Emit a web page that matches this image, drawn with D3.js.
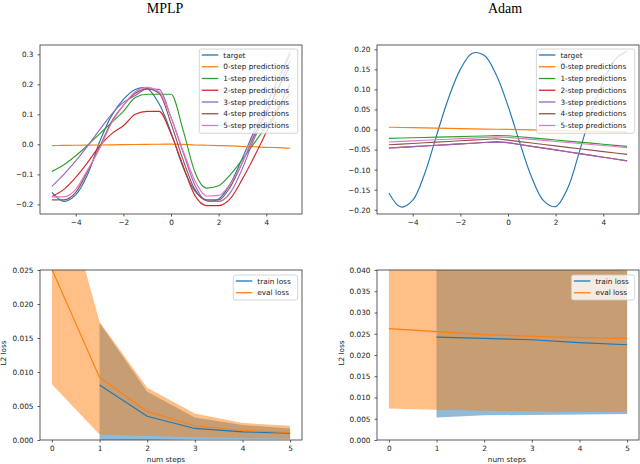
<!DOCTYPE html>
<html>
<head>
<meta charset="utf-8">
<script src="https://cdn.jsdelivr.net/npm/d3@7"></script>
<style>
body {margin: 0; background: #fff;}
svg {display: block;}
.tick text {font-family: "DejaVu Sans"; font-size: 7.3px; fill: #222;}
.lbl {font-family: "DejaVu Sans"; font-size: 7.3px; fill: #222;}
</style>
</head>
<body>
<script>
// x positions used by every curve in the two top panels
var xGrid = [-5, -4.5, -4, -3.5, -3, -2.5, -2, -1.5, -1, -0.5, 0, 0.5, 1, 1.5, 2, 2.5, 3, 3.5, 4, 4.5, 5];

// MPLP panel
var mplpTarget = [-0.16, -0.19, -0.168, -0.1, 0.008, 0.095, 0.15, 0.183, 0.186, 0.135, 0.04, -0.075, -0.155, -0.188, -0.182, -0.13, -0.045, 0.045, 0.13, 0.215, 0.3];
var mplpStep0 = [-0.004, -0.0035, -0.003, -0.0025, -0.002, -0.0015, -0.001, -0.0005, 0.0, 0.0005, 0.001, 0.0, -0.002, -0.003, -0.004, -0.005, -0.007, -0.008, -0.01, -0.011, -0.013];
var mplpStep1 = [-0.09, -0.068, -0.038, -0.003, 0.035, 0.072, 0.11, 0.156, 0.167, 0.167, 0.167, 0.05, -0.092, -0.146, -0.138, -0.1, -0.05, 0.005, 0.06, 0.115, 0.17];
var mplpStep2 = [-0.174, -0.15, -0.11, -0.06, -0.006, 0.035, 0.062, 0.1, 0.11, 0.11, 0.035, -0.07, -0.17, -0.204, -0.204, -0.18, -0.115, -0.04, 0.04, 0.12, 0.2];
var mplpStep3 = [-0.14, -0.1, -0.055, -0.005, 0.048, 0.1, 0.14, 0.163, 0.185, 0.183, 0.09, -0.025, -0.135, -0.188, -0.19, -0.16, -0.08, 0.02, 0.1, 0.19, 0.28];
var mplpStep4 = [-0.185, -0.185, -0.16, -0.09, -0.01, 0.075, 0.13, 0.17, 0.185, 0.17, 0.07, -0.05, -0.15, -0.185, -0.185, -0.14, -0.06, 0.03, 0.11, 0.185, 0.26];
var mplpStep5 = [-0.175, -0.175, -0.15, -0.085, -0.015, 0.07, 0.13, 0.175, 0.19, 0.175, 0.09, -0.02, -0.12, -0.172, -0.17, -0.13, -0.06, 0.04, 0.13, 0.22, 0.31];

// Adam panel
var adamTarget = [-0.158, -0.193, -0.176, -0.11, -0.015, 0.078, 0.15, 0.19, 0.185, 0.137, 0.059, -0.034, -0.12, -0.178, -0.192, -0.147, -0.055, 0.043, 0.12, 0.175, 0.195];
var adamStep0 = [0.0058, 0.0052, 0.0046, 0.004, 0.0035, 0.003, 0.0024, 0.0018, 0.0012, 0.0007, 0.0003, -0.0003, -0.001, -0.0017, -0.0024, -0.003, -0.0037, -0.0044, -0.005, -0.0057, -0.0065];
var adamStep1 = [-0.022, -0.0212, -0.0205, -0.0198, -0.019, -0.0183, -0.0176, -0.0168, -0.016, -0.0153, -0.0155, -0.018, -0.0207, -0.0233, -0.026, -0.0287, -0.0313, -0.034, -0.0367, -0.0393, -0.042];
var adamStep2 = [-0.046, -0.0443, -0.0426, -0.0409, -0.0392, -0.0375, -0.0358, -0.0341, -0.0324, -0.0307, -0.0327, -0.0372, -0.0418, -0.0463, -0.0508, -0.0554, -0.0599, -0.0644, -0.069, -0.0735, -0.078];
var adamStep3 = [-0.046, -0.0443, -0.0426, -0.0409, -0.0392, -0.0375, -0.0358, -0.0341, -0.0324, -0.0307, -0.0327, -0.0372, -0.0418, -0.0463, -0.0508, -0.0554, -0.0599, -0.0644, -0.069, -0.0735, -0.078];
var adamStep4 = [-0.038, -0.0363, -0.0347, -0.033, -0.0313, -0.0297, -0.028, -0.0263, -0.0247, -0.023, -0.0265, -0.0301, -0.0336, -0.0372, -0.0407, -0.0443, -0.0478, -0.0514, -0.0549, -0.0585, -0.062];
var adamStep5 = [-0.031, -0.0296, -0.0282, -0.0268, -0.0255, -0.0241, -0.0227, -0.0213, -0.0199, -0.0186, -0.0195, -0.022, -0.0246, -0.0271, -0.0297, -0.0322, -0.0348, -0.0373, -0.0399, -0.0424, -0.045];

var curveNames = ["target", "0-step predictions", "1-step predictions", "2-step predictions", "3-step predictions", "4-step predictions", "5-step predictions"];
var curveColors = ["#1f77b4", "#ff7f0e", "#2ca02c", "#d62728", "#9467bd", "#8c564b", "#e377c2"];

// loss panels
var evalSteps = [0, 1, 2, 3, 4, 5];
var trainSteps = [1, 2, 3, 4, 5];
var mplpEval = [0.0251, 0.0092, 0.0042, 0.0021, 0.0014, 0.0011];
var mplpEvalLo = [0.0082, 0.0008, 0.0006, 0.0004, 0.0003, 0.0002];
var mplpEvalHi = [0.0427, 0.0174, 0.0077, 0.0039, 0.0025, 0.0021];
var mplpTrain = [0.0081, 0.0035, 0.0017, 0.0012, 0.0010];
var mplpTrainLo = [0.0000, 0.0000, 0.0001, 0.0001, 0.0001];
var mplpTrainHi = [0.0172, 0.0071, 0.0033, 0.0022, 0.0017];
var adamEval = [0.0262, 0.0255, 0.0248, 0.0244, 0.0241, 0.0239];
var adamEvalLo = [0.0074, 0.0071, 0.0069, 0.0067, 0.0066, 0.0066];
var adamEvalHi = [0.0450, 0.0445, 0.0440, 0.0432, 0.0425, 0.0418];
var adamTrain = [0.0242, 0.0239, 0.0236, 0.0229, 0.0224];
var adamTrainLo = [0.0053, 0.0058, 0.0059, 0.0060, 0.0061];
var adamTrainHi = [0.0430, 0.0420, 0.0412, 0.0405, 0.0398];
var lossNames = ["train loss", "eval loss"];

// tick labels
var curveXTicks = [-4, -2, 0, 2, 4];
var mplpYTicks = [-0.2, -0.1, 0.0, 0.1, 0.2, 0.3];
var adamYTicks = [-0.20, -0.15, -0.10, -0.05, 0.00, 0.05, 0.10, 0.15, 0.20];
var stepTicks = [0, 1, 2, 3, 4, 5];
var mplpLossTicks = [0, 0.005, 0.010, 0.015, 0.020, 0.025];
var adamLossTicks = [0, 0.005, 0.010, 0.015, 0.020, 0.025, 0.030, 0.035, 0.040];

var screen = {width: 640, height: 464};

var svg = d3.select("body").append("svg")
    .attr("width", screen.width)
    .attr("height", screen.height);

// builds one subplot: scales, ticks, clipped plot group, frame group on top
var setupPanel = function(id, box, xDomain, yDomain, xTicks, yTicks, xFmt, yFmt)
{
    var xScale = d3.scaleLinear().domain(xDomain).range([box.x0, box.x1]);
    var yScale = d3.scaleLinear().domain(yDomain).range([box.y1, box.y0]);

    svg.append("clipPath").attr("id", id)
        .append("rect")
        .attr("x", box.x0).attr("y", box.y0)
        .attr("width", box.x1 - box.x0).attr("height", box.y1 - box.y0);

    var xAxisG = svg.append("g")
        .attr("transform", "translate(0," + box.y1 + ")")
        .call(d3.axisBottom(xScale).tickValues(xTicks).tickFormat(xFmt).tickSize(2.5).tickPadding(3));
    var yAxisG = svg.append("g")
        .attr("transform", "translate(" + box.x0 + ",0)")
        .call(d3.axisLeft(yScale).tickValues(yTicks).tickFormat(yFmt).tickSize(2.5).tickPadding(4));
    xAxisG.select(".domain").remove();
    yAxisG.select(".domain").remove();
    svg.selectAll(".tick line").attr("stroke", "#333").attr("stroke-width", 0.8);

    var plot = svg.append("g").attr("clip-path", "url(#" + id + ")");
    var top = svg.append("g");
    top.append("rect")
        .attr("x", box.x0).attr("y", box.y0)
        .attr("width", box.x1 - box.x0).attr("height", box.y1 - box.y0)
        .attr("fill", "none")
        .attr("stroke", "#333")
        .attr("stroke-width", 0.8);

    return {x: xScale, y: yScale, plot: plot, top: top, box: box};
}

var drawLegend = function(panel, width, height, rowTop, names, colors)
{
    var right = panel.box.x1 - 4.3;
    var left = right - width;
    var top = panel.box.y0 + rowTop;
    var leg = panel.top.append("g");
    leg.append("rect")
        .attr("x", left).attr("y", top)
        .attr("width", width).attr("height", height)
        .attr("rx", 2)
        .attr("fill", "#fff").attr("fill-opacity", 0.8)
        .attr("stroke", "#ccc").attr("stroke-width", 0.8);
    names.forEach(function(name, i)
    {
        var yy = top + 6 + i * 11.75;
        leg.append("line")
            .attr("x1", left + 2.5).attr("x2", left + 19)
            .attr("y1", yy).attr("y2", yy)
            .attr("stroke", colors[i]).attr("stroke-width", 1.3);
        leg.append("text")
            .attr("class", "lbl")
            .attr("x", left + 24).attr("y", yy)
            .attr("dy", "0.36em")
            .text(name);
    })
}

// one path per series, colour k + offset
var drawCurves = function(panel, series, curve, offset)
{
    var line = d3.line()
        .x(function(d, i){return panel.x(xGrid[i]);})
        .y(function(d){return panel.y(d);})
        .curve(curve);
    series.forEach(function(values, k)
    {
        panel.plot.append("path")
            .attr("d", line(values))
            .attr("fill", "none")
            .attr("stroke", curveColors[k + offset])
            .attr("stroke-width", 1.15);
    })
}

var drawLoss = function(panel, train, trainLo, trainHi, evalVals, evalLo, evalHi)
{
    var area = function(xs)
    {
        return d3.area()
            .x(function(d, i){return panel.x(xs[i]);})
            .y0(function(d){return panel.y(d[0]);})
            .y1(function(d){return panel.y(d[1]);});
    }
    var line = function(xs)
    {
        return d3.line()
            .x(function(d, i){return panel.x(xs[i]);})
            .y(function(d){return panel.y(d);});
    }
    // bands first (matplotlib collections sit under lines)
    panel.plot.append("path")
        .attr("d", area(trainSteps)(d3.zip(trainLo, trainHi)))
        .attr("fill", "#1f77b4").attr("fill-opacity", 0.5);
    panel.plot.append("path")
        .attr("d", area(evalSteps)(d3.zip(evalLo, evalHi)))
        .attr("fill", "#ff7f0e").attr("fill-opacity", 0.5);
    panel.plot.append("path")
        .attr("d", line(trainSteps)(train))
        .attr("fill", "none").attr("stroke", "#1f77b4").attr("stroke-width", 1.15);
    panel.plot.append("path")
        .attr("d", line(evalSteps)(evalVals))
        .attr("fill", "none").attr("stroke", "#ff7f0e").attr("stroke-width", 1.15);
}

var intFmt = d3.format("d");

// top left: MPLP curves
var p1 = setupPanel("c1", {x0: 40, x1: 302, y0: 45, y1: 214}, [-5.5, 5.5], [-0.232, 0.331],
    curveXTicks, mplpYTicks, intFmt, d3.format(".1f"));
drawCurves(p1, [mplpTarget], d3.curveCatmullRom, 0);
drawCurves(p1, [mplpStep0, mplpStep1, mplpStep2, mplpStep3, mplpStep4, mplpStep5], d3.curveMonotoneX, 1);
drawLegend(p1, 98.4, 84.3, 4, curveNames, curveColors);

// top right: Adam curves
var p2 = setupPanel("c2", {x0: 377, x1: 639, y0: 45, y1: 214}, [-5.5, 5.5], [-0.2105, 0.2107],
    curveXTicks, adamYTicks, intFmt, d3.format(".2f"));
drawCurves(p2, [adamTarget], d3.curveCatmullRom, 0);
drawCurves(p2, [adamStep0, adamStep1, adamStep2, adamStep3, adamStep4, adamStep5], d3.curveLinear, 1);
drawLegend(p2, 98.3, 84.3, 4, curveNames, curveColors);

// bottom left: MPLP loss
var p3 = setupPanel("c3", {x0: 40, x1: 302, y0: 270, y1: 440}, [-0.25, 5.25], [0, 0.025],
    stepTicks, mplpLossTicks, intFmt, d3.format(".3f"));
drawLoss(p3, mplpTrain, mplpTrainLo, mplpTrainHi, mplpEval, mplpEvalLo, mplpEvalHi);
drawLegend(p3, 64.4, 25, 5, lossNames, ["#1f77b4", "#ff7f0e"]);

// bottom right: Adam loss
var p4 = setupPanel("c4", {x0: 377, x1: 639, y0: 270, y1: 440}, [-0.25, 5.25], [0, 0.04],
    stepTicks, adamLossTicks, intFmt, d3.format(".3f"));
drawLoss(p4, adamTrain, adamTrainLo, adamTrainHi, adamEval, adamEvalLo, adamEvalHi);
drawLegend(p4, 63.3, 25, 5, lossNames, ["#1f77b4", "#ff7f0e"]);

// titles and axis labels
svg.append("text").attr("x", 165).attr("y", 12.5)
    .attr("text-anchor", "middle")
    .style("font-family", "Liberation Serif").style("font-size", "14px")
    .text("MPLP");
svg.append("text").attr("x", 505).attr("y", 12.5)
    .attr("text-anchor", "middle")
    .style("font-family", "Liberation Serif").style("font-size", "14px")
    .text("Adam");

[{x: 166, cx: 5.5}, {x: 507, cx: 343.5}].forEach(function(pos)
{
    svg.append("text").attr("class", "lbl")
        .attr("x", pos.x).attr("y", 462)
        .attr("text-anchor", "middle")
        .text("num steps");
    svg.append("text").attr("class", "lbl")
        .attr("transform", "translate(" + pos.cx + ",353) rotate(-90)")
        .attr("text-anchor", "middle")
        .text("L2 loss");
})
</script>
</body>
</html>
